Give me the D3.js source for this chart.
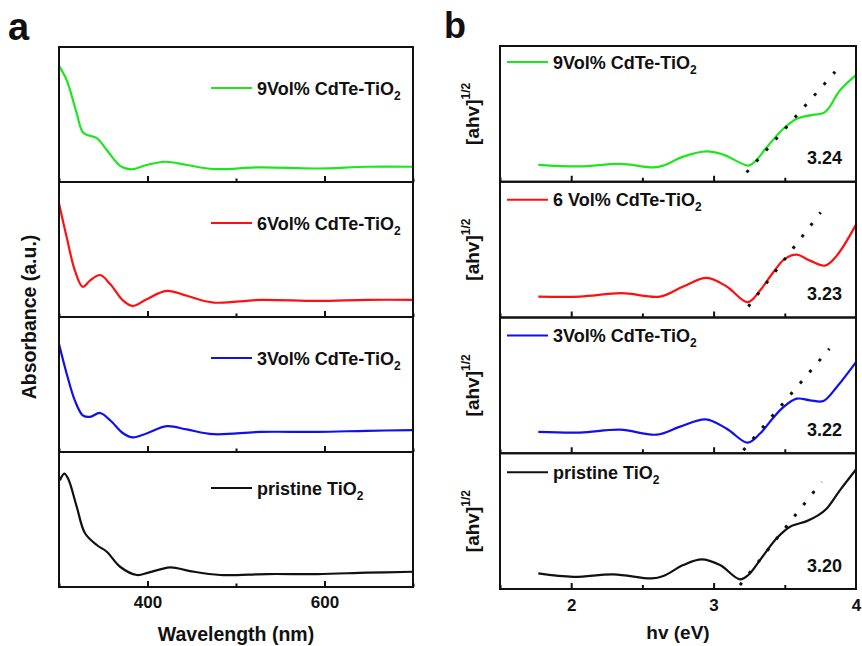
<!DOCTYPE html>
<html><head><meta charset="utf-8">
<script src="https://cdn.jsdelivr.net/npm/d3@7"></script>
<style>
body{margin:0;background:#fff}
text{font-family:"Liberation Sans",Arial,sans-serif;font-weight:bold;fill:#111}
</style>
</head><body>
<svg id="chart" width="862" height="646"></svg>
<script>
// ---------- DATA ----------
const legendBaseA = ["9Vol% CdTe-TiO", "6Vol% CdTe-TiO", "3Vol% CdTe-TiO", "pristine TiO"];
const legendBaseB = ["9Vol% CdTe-TiO", "6 Vol% CdTe-TiO", "3Vol% CdTe-TiO", "pristine TiO"];
const legendSub = ["2", "2", "2", "2"];
const bandGaps = ["3.24", "3.23", "3.22", "3.20"];

const ticksA = [300, 400, 500, 600, 700];
const tickLabelsA = [400, 600];
const ticksB = [1.5, 2, 2.5, 3, 3.5, 4];
const tickLabelsB = [2, 3, 4];

// Panel a: absorbance vs wavelength (nm)
const wl9 = [300, 308.7, 320, 327.5, 342.7, 354, 369, 382, 399, 420, 444.6, 474.7, 527.6, 591.8, 648, 700];
const abs9 = [0.86, 0.755, 0.51, 0.365, 0.325, 0.237, 0.12, 0.094, 0.126, 0.15, 0.126, 0.096, 0.109, 0.10, 0.113, 0.113];
const wl6 = [300, 308.7, 318, 326.8, 335, 346.4, 357.8, 372.8, 383.4, 399, 421.7, 444.4, 474.6, 527.5, 591.8, 648, 700];
const abs6 = [0.84, 0.59, 0.343, 0.224, 0.269, 0.311, 0.244, 0.119, 0.082, 0.132, 0.194, 0.157, 0.107, 0.127, 0.119, 0.127, 0.127];
const wl3 = [300, 308.7, 318, 326.8, 335, 346.4, 357.8, 372.8, 383.4, 399, 421.7, 444.4, 474.6, 527.5, 591.8, 648, 700];
const abs3 = [0.80, 0.58, 0.38, 0.272, 0.26, 0.289, 0.235, 0.137, 0.108, 0.137, 0.191, 0.167, 0.132, 0.149, 0.149, 0.157, 0.162];
const wl0 = [301, 306, 310.5, 320, 329.4, 342.7, 354, 369, 388, 401, 425.7, 448, 482, 535, 592, 648, 700];
const abs0 = [0.79, 0.84, 0.80, 0.595, 0.398, 0.311, 0.261, 0.15, 0.089, 0.106, 0.146, 0.118, 0.089, 0.096, 0.096, 0.106, 0.113];

// Panel b: [ahv]^1/2 vs hv (eV)
const ev9 = [1.769, 2.062, 2.343, 2.577, 2.647, 2.787, 2.951, 3.068, 3.244, 3.29, 3.373, 3.49, 3.584, 3.677, 3.782, 3.888, 4.0];
const tauc9 = [0.124, 0.113, 0.131, 0.106, 0.119, 0.185, 0.224, 0.2, 0.119, 0.148, 0.254, 0.39, 0.464, 0.489, 0.513, 0.674, 0.785];
const ev6 = [1.769, 2.062, 2.354, 2.624, 2.787, 2.951, 3.092, 3.239, 3.326, 3.419, 3.5, 3.584, 3.677, 3.782, 3.865, 4.0];
const tauc6 = [0.154, 0.154, 0.179, 0.154, 0.228, 0.292, 0.228, 0.113, 0.199, 0.333, 0.432, 0.463, 0.419, 0.382, 0.456, 0.684];
const ev3 = [1.769, 2.062, 2.343, 2.6, 2.76, 2.944, 3.092, 3.239, 3.326, 3.419, 3.49, 3.584, 3.677, 3.771, 3.865, 4.0];
const tauc3 = [0.157, 0.152, 0.174, 0.137, 0.194, 0.25, 0.181, 0.078, 0.145, 0.262, 0.34, 0.402, 0.39, 0.385, 0.488, 0.671];
const ev0 = [1.769, 2.016, 2.297, 2.566, 2.647, 2.787, 2.916, 3.045, 3.185, 3.244, 3.326, 3.443, 3.537, 3.654, 3.736, 3.795, 3.888, 4.0];
const tauc0 = [0.115, 0.09, 0.108, 0.078, 0.096, 0.176, 0.218, 0.176, 0.071, 0.103, 0.213, 0.373, 0.458, 0.5, 0.544, 0.593, 0.728, 0.88];

// Tangent (extrapolation) lines: [hv start, value start, hv end, value end]
const fit9 = [3.232, 0.069, 3.853, 0.81];
const fit6 = [3.244, 0.081, 3.752, 0.774];
const fit3 = [3.209, 0.022, 3.813, 0.77];
const fit0 = [3.185, 0.029, 3.759, 0.789];

// ---------- DRAWING ----------
const svg = d3.select("#chart");
const colors = ["#1ee61e", "#ff1010", "#1010ee", "#111111"];

const seriesA = [[wl9, abs9], [wl6, abs6], [wl3, abs3], [wl0, abs0]];
const seriesB = [[ev9, tauc9], [ev6, tauc6], [ev3, tauc3], [ev0, tauc0]];
const fits = [fit9, fit6, fit3, fit0];

const A = {left: 59, right: 413, top: 47, bottom: 587};
const B = {left: 500, right: 856, top: 46, bottom: 589};

const xA = d3.scaleLinear().domain([300, 700]).range([A.left, A.right]);
const xB = d3.scaleLinear().domain([1.5, 4]).range([B.left, B.right]);
const hA = (A.bottom - A.top) / 4, hB = (B.bottom - B.top) / 4;

const line = d3.line().curve(d3.curveCatmullRom.alpha(0.5));

function legend(g, x1, x2, xt, y, base, sub, color) {
  g.append("line").attr("x1", x1).attr("x2", x2).attr("y1", y).attr("y2", y)
    .attr("stroke", color).attr("stroke-width", 2.2);
  const t = g.append("text").attr("x", xt).attr("y", y + 6.5).attr("font-size", 18);
  t.append("tspan").text(base);
  t.append("tspan").attr("font-size", 12).attr("dy", 5).text(sub);
}

const legOffA = [41, 41, 41, 36];
const legOffB = [16, 18, 18, 19];

for (let i = 0; i < 4; i++) {
  // ---- panel a ----
  const t = A.top + i * hA, b = t + hA;
  const y = d3.scaleLinear().domain([0, 1]).range([b, t]);
  const g = svg.append("g");
  const [xs, ys] = seriesA[i];
  g.append("path").attr("d", line(xs.map((v, k) => [xA(v), y(ys[k])])))
    .attr("fill", "none").attr("stroke", colors[i]).attr("stroke-width", 2.2);

  const axMaj = d3.axisBottom(xA).tickValues(tickLabelsA).tickSizeInner(-6).tickSizeOuter(0).tickPadding(9)
    .tickFormat(i === 3 ? d3.format("d") : () => "");
  const axMin = d3.axisBottom(xA).tickValues(ticksA.filter(v => !tickLabelsA.includes(v))).tickSizeInner(-3.5).tickSizeOuter(0).tickFormat(() => "");
  for (const ax of [axMaj, axMin]) {
    const ag = g.append("g").attr("transform", `translate(0,${b})`).call(ax);
    ag.select(".domain").remove();
    ag.selectAll("line").attr("stroke", "#111").attr("stroke-width", 2);
    ag.selectAll("text").attr("font-size", 17).attr("font-family", "Liberation Sans, Arial, sans-serif").attr("font-weight", "bold").attr("fill", "#111");
  }
  g.append("rect").attr("x", A.left).attr("y", t).attr("width", A.right - A.left).attr("height", hA)
    .attr("fill", "none").attr("stroke", "#111").attr("stroke-width", 2);
  legend(g, 211, 252, 257, t + legOffA[i], legendBaseA[i], legendSub[i], colors[i]);

  // ---- panel b ----
  const tb = B.top + i * hB, bb = tb + hB;
  const yb = d3.scaleLinear().domain([0, 1]).range([bb, tb]);
  const gb = svg.append("g");
  const [xe, ye] = seriesB[i];
  gb.append("path").attr("d", line(xe.map((v, k) => [xB(v), yb(ye[k])])))
    .attr("fill", "none").attr("stroke", colors[i]).attr("stroke-width", 2.2);
  const f = fits[i];
  gb.append("line").attr("x1", xB(f[0])).attr("y1", yb(f[1])).attr("x2", xB(f[2])).attr("y2", yb(f[3]))
    .attr("stroke", "#111").attr("stroke-width", 3).attr("stroke-dasharray", "3,11.6");

  const bMaj = d3.axisBottom(xB).tickValues([2, 3]).tickSizeInner(-6).tickSizeOuter(0).tickFormat(() => "");
  const bMin = d3.axisBottom(xB).tickValues(ticksB.filter(v => v % 1 !== 0)).tickSizeInner(-4).tickSizeOuter(0).tickFormat(() => "");
  for (const ax of [bMaj, bMin]) {
    const ag = gb.append("g").attr("transform", `translate(0,${bb})`).call(ax);
    ag.select(".domain").remove();
    ag.selectAll("line").attr("stroke", "#111").attr("stroke-width", 2);
  }
  if (i === 3) {
    const lab = gb.append("g").attr("transform", `translate(0,${bb})`)
      .call(d3.axisBottom(xB).tickValues(tickLabelsB).tickSize(0).tickPadding(10).tickFormat(d3.format("d")));
    lab.select(".domain").remove();
    lab.selectAll("text").attr("font-size", 17).attr("font-family", "Liberation Sans, Arial, sans-serif").attr("font-weight", "bold").attr("fill", "#111");
  }
  gb.append("rect").attr("x", B.left).attr("y", tb).attr("width", B.right - B.left).attr("height", hB)
    .attr("fill", "none").attr("stroke", "#111").attr("stroke-width", 2);
  legend(gb, 507, 548, 553, tb + legOffB[i], legendBaseB[i], legendSub[i], colors[i]);
  gb.append("text").attr("x", 842).attr("y", bb - 17.5).attr("text-anchor", "end").attr("font-size", 18).text(bandGaps[i]);

  // y label b
  const yl = gb.append("text").attr("transform", `translate(479,${(tb + bb) / 2}) rotate(-90)`)
    .attr("text-anchor", "middle").attr("font-size", 19);
  yl.append("tspan").text("[ahv]");
  yl.append("tspan").attr("font-size", 12).attr("dy", -9).text("1/2");
}

// axis titles
svg.append("text").attr("x", (A.left + A.right) / 2).attr("y", 641).attr("text-anchor", "middle")
  .attr("font-size", 19.5).text("Wavelength (nm)");
svg.append("text").attr("transform", `translate(36,${(A.top + A.bottom) / 2}) rotate(-90)`)
  .attr("text-anchor", "middle").attr("font-size", 19.5).text("Absorbance (a.u.)");
svg.append("text").attr("x", (B.left + B.right) / 2).attr("y", 639).attr("text-anchor", "middle")
  .attr("font-size", 19).text("hv (eV)");

// panel letters
svg.append("text").attr("x", 8).attr("y", 40).attr("font-size", 38).text("a");
svg.append("text").attr("x", 444).attr("y", 38).attr("font-size", 36).text("b");
</script>
</body></html>
